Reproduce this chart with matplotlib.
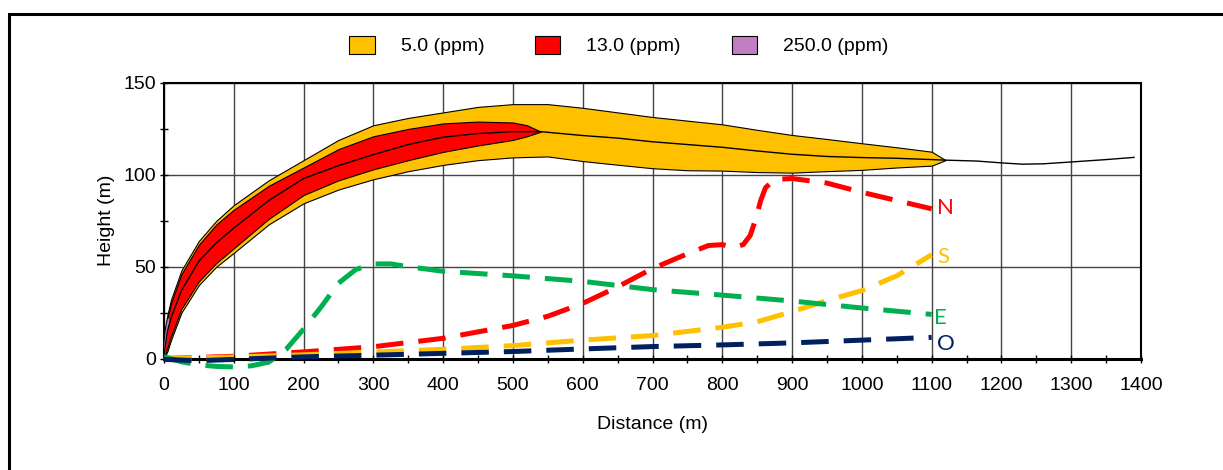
import matplotlib
matplotlib.use("Agg")
import matplotlib.pyplot as plt
from matplotlib.patches import Patch, Rectangle
from matplotlib.ticker import MultipleLocator

plt.rcParams['font.family'] = ['Liberation Sans', 'DejaVu Sans']

# plume envelopes (distance m -> height m)
x_inner = [0, 5, 10, 25, 50, 75, 100, 150, 200, 250, 300, 350, 400, 450, 500, 520, 540]
red_top = [12, 22, 30, 46, 62, 73, 81, 94, 104, 114, 121, 125, 128, 129, 128.5, 127, 123.5]
red_bot = [0, 6, 12, 27, 42, 52, 60, 76, 89, 97, 103, 108, 112.5, 116, 119, 121, 123.5]

x_outer = [0, 5, 10, 25, 50, 75, 100, 150, 200, 250, 300, 350, 400, 450, 500, 550, 600,
           650, 700, 750, 800, 850, 900, 950, 1000, 1050, 1100, 1120]
orange_top = [14, 24, 32, 48, 64, 75, 83.5, 97, 108, 119, 127, 131, 134, 137, 138.5, 138.5, 136.5,
              134, 131.5, 129.5, 127.5, 124.5, 121.7, 119.5, 117.2, 115, 112.6, 108]
orange_bot = [0, 4, 10, 25, 40, 50, 57.5, 73, 84.5, 92, 97.6, 102, 105.4, 108, 109.5, 110, 107.5,
              105.5, 103.6, 102.5, 102.3, 101.5, 101.2, 102, 102.7, 104, 105, 108]

x_purple = [0, 2, 4, 6, 8]
purple_top = [6, 14, 19, 22, 21]
purple_bot = [0, 4, 9, 15, 20]

x_center = [0, 5, 10, 25, 50, 75, 100, 150, 200, 250, 300, 350, 400, 450, 500, 540, 600, 650,
            700, 750, 800, 850, 900, 950, 1000, 1050, 1100, 1120, 1165, 1200, 1230, 1260, 1300,
            1350, 1390]
center = [2, 15, 22, 37, 53, 63, 71, 86, 98, 105, 111, 116.5, 120.5, 122.5, 123.5, 123.5, 121.4, 120,
          118, 116.5, 115, 113, 111.2, 110, 109.4, 109, 108.3, 108, 107.5, 106.5, 105.8, 106, 107,
          108.3, 109.5]

# wind-direction trajectories
x_n = [0, 100, 200, 300, 400, 500, 550, 600, 650, 700, 750, 780, 800, 815, 830, 840, 848, 855,
       862, 875, 900, 950, 1000, 1050, 1100]
y_n = [0, 1.2, 3.6, 6.4, 11, 18, 23, 30, 39, 49, 57, 61.5, 62, 60.5, 62, 67, 76, 86,
       93, 97.5, 98, 95.5, 90.5, 86, 81.5]
x_s = [0, 100, 200, 300, 400, 500, 600, 700, 800, 850, 900, 950, 1000, 1050, 1100]
y_s = [0, 0.8, 2, 3.5, 5, 7, 10, 12.5, 17, 20, 25.5, 31.5, 37, 45, 56.5]
x_e = [0, 25, 50, 75, 100, 125, 150, 175, 200, 225, 250, 275, 300, 325, 350, 400, 500, 600,
       700, 800, 900, 1000, 1100]
y_e = [1, -1.8, -3.5, -4.3, -4.6, -4, -2, 5, 16, 28, 41, 48.5, 51.5, 51.5, 50, 47.5, 45, 42,
       37.5, 34.5, 31.3, 27.5, 24]
x_o = [0, 50, 100, 200, 300, 400, 500, 600, 700, 800, 900, 1000, 1100]
y_o = [-0.5, -1.2, -0.5, 0.9, 1.8, 2.8, 3.8, 5.2, 6.5, 7.4, 8.5, 10, 11.5]

dir_labels = ["N", "S", "E", "O"]
dir_colors = ["#FF0000", "#FFC000", "#00B050", "#002060"]
label_pos = [(1108, 82), (1108, 55), (1103, 22), (1108, 8)]

conc_labels = ["5.0 (ppm)", "13.0 (ppm)", "250.0 (ppm)"]
conc_colors = ["#FFC000", "#FF0000", "#C080C0"]

fig = plt.figure(figsize=(12.23, 4.70), dpi=100)
ax = fig.add_axes([164 / 1223, 1 - 358.5 / 470, (1141 - 164) / 1223, (358.5 - 83) / 470])

ax.fill_between(x_outer, orange_bot, orange_top, facecolor=conc_colors[0], edgecolor="black",
                linewidth=0.8, zorder=2)
ax.fill_between(x_inner, red_bot, red_top, facecolor=conc_colors[1], edgecolor="black",
                linewidth=0.8, zorder=3)
ax.fill_between(x_purple, purple_bot, purple_top, facecolor=conc_colors[2], edgecolor="none",
                zorder=4)
ax.plot(x_center, center, color="black", linewidth=1.0, zorder=5)

for xs, ys, col in zip([x_n, x_s, x_e, x_o], [y_n, y_s, y_e, y_o], dir_colors):
    ax.plot(xs, ys, color=col, linewidth=3.6, dashes=(5.5, 3), clip_on=False, zorder=6)

for lab, col, (lx, ly) in zip(dir_labels, dir_colors, label_pos):
    ax.text(lx, ly, lab, color=col, fontsize=16, family=['Lato', 'DejaVu Sans'],
            ha="left", va="center", zorder=7)

ax.set_xlim(0, 1400)
ax.set_ylim(0, 150)
ax.xaxis.set_major_locator(MultipleLocator(100))
ax.xaxis.set_minor_locator(MultipleLocator(50))
ax.yaxis.set_major_locator(MultipleLocator(50))
ax.yaxis.set_minor_locator(MultipleLocator(25))
ax.tick_params(which="both", direction="inout", length=6, width=1, labelsize=14)
ax.tick_params(axis="x", which="both", pad=10)
ax.tick_params(axis="y", which="both", pad=3)
ax.grid(which="major", color="#444444", linewidth=1.0, zorder=0)
ax.set_axisbelow(True)
for s in ax.spines.values():
    s.set_linewidth(1.5)
ax.spines["bottom"].set_linewidth(2.2)

ax.set_xlabel("Distance (m)", fontsize=14, labelpad=16)
ax.set_ylabel("Height (m)", fontsize=14, labelpad=6)

handles = [Patch(facecolor=c, edgecolor="black", linewidth=0.8) for c in conc_colors]
fig.legend(handles, conc_labels, loc="center", bbox_to_anchor=(0.506, 0.903), ncol=3,
           frameon=False, fontsize=14, handlelength=1.29, handleheight=1.03,
           handletextpad=1.34, columnspacing=2.62)

fig.patches.append(Rectangle((9 / 1223, -0.2), 1.2, 1.2 - 14 / 470, transform=fig.transFigure,
                             fill=False, edgecolor="black", linewidth=2.2))

fig.savefig("out.png", dpi=100)
